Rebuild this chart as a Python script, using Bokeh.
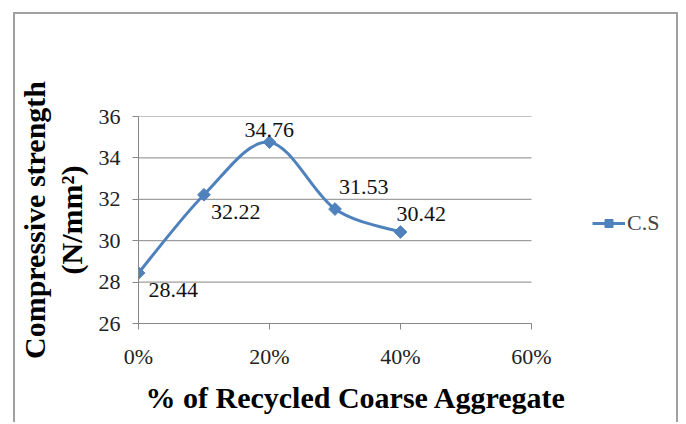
import math
from bokeh.plotting import figure
from bokeh.models import (ColumnDataSource, LabelSet, Legend, LegendItem,
                          NumeralTickFormatter, FixedTicker, Range1d, Title)
from bokeh.embed import file_html
from bokeh.resources import INLINE

# ---- data ----
rca_share = [0.0, 0.1, 0.2, 0.3, 0.4]
comp_strength = [28.44, 32.22, 34.76, 31.53, 30.42]
strength_labels = ["28.44", "32.22", "34.76", "31.53", "30.42"]
x_ticks = [0.0, 0.2, 0.4, 0.6]
y_ticks = [26, 28, 30, 32, 34, 36]
series_name = "C.S"
x_title = "% of Recycled Coarse Aggregate"
y_title = "Compressive strength\n(N/mm²)"

# label offsets (style)
lab_dx = [10, 7, -25, 4, -4]
lab_dy = [-17, -17, 12, 22, 18]

BLUE = "#4F81BD"
GRID = "#878787"
FONT = "Liberation Serif"

# layout (px)
W, H = 665, 410
LEFT, TOP, BOTTOM = 123, 102, 101
AXIS_W = 393                      # pixel length of the 0..60% axis
FRAME_W = W - LEFT
x_end = x_ticks[-1] * FRAME_W / AXIS_W   # extra room on the right for the legend

# smoothed (Excel-like) bezier segments computed from the data points
n = len(rca_share)
x0, y0, x1, y1, cx0, cy0, cx1, cy1 = ([] for _ in range(8))
for i in range(n - 1):
    pm = max(i - 1, 0)
    pp = min(i + 2, n - 1)
    x0.append(rca_share[i]); y0.append(comp_strength[i])
    x1.append(rca_share[i + 1]); y1.append(comp_strength[i + 1])
    cx0.append(rca_share[i] + (rca_share[i + 1] - rca_share[pm]) / 6)
    cy0.append(comp_strength[i] + (comp_strength[i + 1] - comp_strength[pm]) / 6)
    cx1.append(rca_share[i + 1] - (rca_share[pp] - rca_share[i]) / 6)
    cy1.append(comp_strength[i + 1] - (comp_strength[pp] - comp_strength[i]) / 6)

seg_src = ColumnDataSource(dict(x0=x0, y0=y0, x1=x1, y1=y1,
                                cx0=cx0, cy0=cy0, cx1=cx1, cy1=cy1))
pt_src = ColumnDataSource(dict(x=rca_share, y=comp_strength, t=strength_labels,
                               dx=lab_dx, dy=lab_dy))
grid_src = ColumnDataSource(dict(x0=[x_ticks[0]] * len(y_ticks),
                                 x1=[x_ticks[-1]] * len(y_ticks),
                                 y=y_ticks))

p = figure(width=W, height=H, output_backend="svg", toolbar_location=None,
           x_range=Range1d(0, x_end), y_range=Range1d(y_ticks[0], y_ticks[-1]),
           min_border_left=LEFT, min_border_right=0,
           min_border_top=TOP, min_border_bottom=BOTTOM)
p.styles = {"border-left": "2px solid #a0a0a0", "border-top": "2px solid #a0a0a0",
            "border-right": "2px solid #a0a0a0", "margin-left": "13px", "margin-top": "12px"}
p.outline_line_color = None
p.background_fill_color = "white"
p.border_fill_color = "white"
p.xgrid.grid_line_color = None
p.ygrid.grid_line_color = None

# horizontal gridlines, limited to the 0..60% axis extent
p.segment(x0="x0", x1="x1", y0="y", y1="y", source=grid_src,
          line_color=GRID, line_width=1)

seg = p.bezier(x0="x0", y0="y0", x1="x1", y1="y1", cx0="cx0", cy0="cy0",
               cx1="cx1", cy1="cy1", source=seg_src, line_color=BLUE, line_width=3)
pts = p.scatter("x", "y", source=pt_src, marker="square", size=9, angle=math.pi / 4,
                fill_color=BLUE, line_color=BLUE)

labels = LabelSet(x="x", y="y", text="t", source=pt_src, x_offset="dx", y_offset="dy",
                  text_font=FONT, text_font_size="22px", text_color="#111111",
                  text_align="left", text_baseline="middle")
p.add_layout(labels)

# axes
p.xaxis.ticker = FixedTicker(ticks=x_ticks)
p.xaxis.formatter = NumeralTickFormatter(format="0%")
p.xaxis.bounds = (x_ticks[0], x_ticks[-1])
p.yaxis.ticker = FixedTicker(ticks=y_ticks)
for ax in (p.xaxis, p.yaxis):
    ax.axis_line_color = GRID
    ax.major_tick_line_color = GRID
    ax.major_tick_out = 6
    ax.major_tick_in = 0
    ax.minor_tick_line_color = None
    ax.major_label_text_font = FONT
    ax.major_label_text_font_size = "22px"
    ax.major_label_text_color = "#222222"
    ax.major_label_text_font_style = "normal"
p.xaxis.major_label_standoff = 14
p.yaxis.major_label_standoff = 12

p.yaxis.axis_label = y_title
p.yaxis.axis_label_text_font = FONT
p.yaxis.axis_label_text_font_size = "30px"
p.yaxis.axis_label_text_font_style = "bold"
p.yaxis.axis_label_text_color = "black"
p.yaxis.axis_label_text_line_height = 1.1
p.yaxis.axis_label_standoff = 8

xt = Title(text=x_title, text_font=FONT, text_font_size="30px", text_font_style="bold",
           text_color="black", align="left", offset=7, standoff=14)
p.add_layout(xt, "below")

legend = Legend(items=[LegendItem(label=series_name, renderers=[seg, pts])],
                location=(454, 87), glyph_width=33, glyph_height=20,
                label_text_font=FONT, label_text_font_size="22px",
                label_standoff=2, border_line_color=None, background_fill_alpha=0,
                margin=0, padding=0)
p.add_layout(legend, "center")

with open("out.html", "w") as f:
    f.write(file_html(p, INLINE))
